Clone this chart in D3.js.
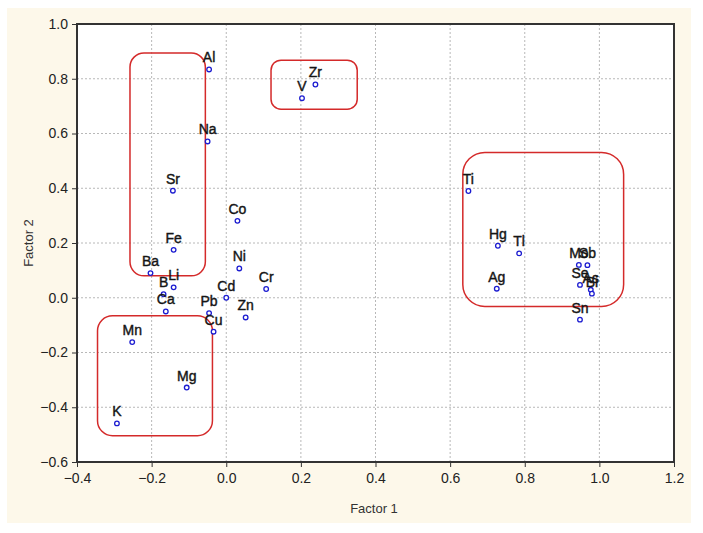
<!DOCTYPE html>
<html>
<head>
<meta charset="utf-8">
<script src="https://cdn.jsdelivr.net/npm/d3@7"></script>
<style>
  body { margin: 0; background: #fff; }
  svg { display: block; font-family: 'Liberation Sans', Arial, sans-serif; }
</style>
</head>
<body>
<svg id="chart"></svg>
<script>
// factor loadings
const elements = ['Al', 'Na', 'Sr', 'Fe', 'Ba', 'Li', 'B', 'Ca', 'Co', 'Ni', 'Cr', 'Cd', 'Pb', 'Zn', 'Cu',
  'Mn', 'Mg', 'K', 'V', 'Zr', 'Ti', 'Hg', 'Tl', 'Ag', 'Mo', 'Sb', 'Se', 'As', 'Bi', 'Sn']
const factor1 = [-0.046, -0.050, -0.143, -0.141, -0.203, -0.141, -0.168, -0.162, 0.030, 0.035, 0.107, 0.000, -0.046, 0.052, -0.034,
  -0.252, -0.106, -0.293, 0.203, 0.239, 0.649, 0.728, 0.785, 0.725, 0.945, 0.968, 0.948, 0.977, 0.980, 0.948]
const factor2 = [0.834, 0.571, 0.391, 0.175, 0.090, 0.038, 0.013, -0.050, 0.281, 0.107, 0.032, 0.000, -0.056, -0.072, -0.124,
  -0.162, -0.328, -0.459, 0.729, 0.779, 0.390, 0.190, 0.162, 0.033, 0.120, 0.119, 0.047, 0.029, 0.015, -0.080]

const xTicks = [-0.4, -0.2, 0.0, 0.2, 0.4, 0.6, 0.8, 1.0, 1.2]
const yTicks = [-0.6, -0.4, -0.2, 0.0, 0.2, 0.4, 0.6, 0.8, 1.0]

// hand-drawn group outlines, in factor units: [x0, x1, y0, y1]
const groupBoxes = [
  [-0.258, -0.056, 0.080, 0.894],
  [0.120, 0.351, 0.689, 0.868],
  [0.634, 1.065, -0.032, 0.531],
  [-0.345, -0.037, -0.504, -0.066]
]
const boxRadius = [14, 10, 22, 15]

const width = 703; const height = 533
const margin = { top: 24, right: 29, bottom: 71, left: 77 }

const svg = d3.select('#chart').attr('width', width).attr('height', height)

// cream panel behind the plot
svg.append('rect')
  .attr('x', 7).attr('y', 8)
  .attr('width', 684).attr('height', 515)
  .attr('fill', '#fdf8ea')

const x = d3.scaleLinear().domain([-0.4, 1.2]).range([margin.left, width - margin.right])
const y = d3.scaleLinear().domain([-0.6, 1.0]).range([height - margin.bottom, margin.top])

svg.append('rect')
  .attr('x', x(-0.4)).attr('y', y(1.0))
  .attr('width', x(1.2) - x(-0.4)).attr('height', y(-0.6) - y(1.0))
  .attr('fill', '#fff')

// dotted grid
const grid = svg.append('g').attr('stroke', '#b8b8b8').attr('stroke-dasharray', '2,2').attr('stroke-width', 1)
grid.selectAll('line.vx').data(xTicks.slice(1, -1)).enter().append('line')
  .attr('x1', d => x(d)).attr('x2', d => x(d))
  .attr('y1', y(1.0)).attr('y2', y(-0.6))
grid.selectAll('line.hy').data(yTicks.slice(1, -1)).enter().append('line')
  .attr('x1', x(-0.4)).attr('x2', x(1.2))
  .attr('y1', d => y(d)).attr('y2', d => y(d))

const fmt = d3.format('.1f')
const xAxis = svg.append('g')
  .attr('transform', `translate(0,${y(-0.6)})`)
  .call(d3.axisBottom(x).tickValues(xTicks).tickFormat(fmt).tickSize(5).tickPadding(6))
const yAxis = svg.append('g')
  .attr('transform', `translate(${x(-0.4)},0)`)
  .call(d3.axisLeft(y).tickValues(yTicks).tickFormat(fmt).tickSize(5).tickPadding(4))

;[xAxis, yAxis].forEach(ax => {
  ax.select('.domain').remove()
  ax.selectAll('line').attr('stroke', '#333')
  ax.selectAll('text').attr('font-size', 14).attr('fill', '#222')
    .attr('font-family', 'Liberation Sans, Arial, sans-serif')
})

// frame
svg.append('rect')
  .attr('x', x(-0.4)).attr('y', y(1.0))
  .attr('width', x(1.2) - x(-0.4)).attr('height', y(-0.6) - y(1.0))
  .attr('fill', 'none').attr('stroke', '#333').attr('stroke-width', 2)

// axis titles
svg.append('text')
  .attr('x', 374).attr('y', 513)
  .attr('text-anchor', 'middle')
  .attr('font-size', 13).attr('fill', '#333')
  .text('Factor 1')
svg.append('text')
  .attr('transform', `translate(33,${(y(1.0) + y(-0.6)) / 2}) rotate(-90)`)
  .attr('text-anchor', 'middle')
  .attr('font-size', 13).attr('fill', '#333')
  .text('Factor 2')

// group outlines
svg.selectAll('rect.group').data(groupBoxes).enter().append('rect')
  .attr('class', 'group')
  .attr('x', d => x(d[0])).attr('y', d => y(d[3]))
  .attr('width', d => x(d[1]) - x(d[0]))
  .attr('height', d => y(d[2]) - y(d[3]))
  .attr('rx', (d, i) => boxRadius[i]).attr('ry', (d, i) => boxRadius[i])
  .attr('fill', 'none').attr('stroke', '#d42a2a').attr('stroke-width', 1.5)

const pts = elements.map((name, i) => ({ name, f1: factor1[i], f2: factor2[i] }))

const marks = svg.append('g')
marks.selectAll('circle').data(pts).enter().append('circle')
  .attr('cx', d => x(d.f1)).attr('cy', d => y(d.f2))
  .attr('r', 2.3)
  .attr('fill', '#fff').attr('stroke', '#1c1cd0').attr('stroke-width', 1.3)

// labels sit centred above their points; the overlaps in the right cluster are as in the original
marks.selectAll('text').data(pts).enter().append('text')
  .attr('x', d => x(d.f1)).attr('y', d => y(d.f2) - 7)
  .attr('text-anchor', 'middle')
  .attr('font-size', 14).attr('fill', '#151515')
  .attr('stroke', '#151515').attr('stroke-width', 0.4)
  .text(d => d.name)
</script>
</body>
</html>
